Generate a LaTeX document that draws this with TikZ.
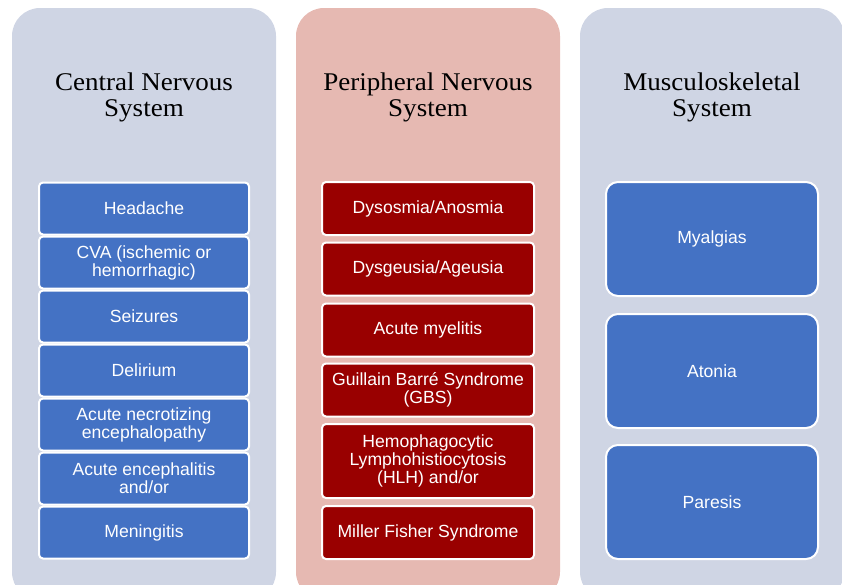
\documentclass[tikz,border=0pt]{standalone}
\usepackage{fontspec}
\setmainfont{Liberation Serif}
\setsansfont{Liberation Sans}
\newfontfamily\titlefont{Liberation Serif}[FakeStretch=1.06]

\definecolor{panelblue}{RGB}{207,213,228}
\definecolor{panelred}{RGB}{230,185,178}
\definecolor{boxblue}{RGB}{68,114,196}
\definecolor{boxred}{RGB}{153,0,0}

\begin{document}
\begin{tikzpicture}[x=1pt,y=-1pt,
  panel/.style={rounded corners=28pt},
  title/.style={align=center,font=\titlefont\fontsize{25.5}{26}\selectfont},
  item/.style={draw=white,line width=2pt,rounded corners=4pt,text=white,
    align=center,inner sep=0pt,font=\sffamily\fontsize{17.6}{18}\selectfont},
  cnsbox/.style={item,fill=boxblue,minimum width=210pt,minimum height=52pt},
  pnsbox/.style={item,fill=boxred,minimum width=212pt,minimum height=53pt},
  msbox/.style={item,fill=boxblue,rounded corners=12pt,minimum width=212pt,minimum height=114pt}]

\useasboundingbox (0,0) rectangle (842,584);
\clip (0,0) rectangle (842,584);

% 三个底板
\fill[panelblue,panel] (12,8) rectangle (276,600);
\fill[panelred,panel] (296,8) rectangle (560,600);
\fill[panelblue,panel] (580,8) rectangle (844,600);

% 标题
\node[title] (cnstitle) at (144,97) {Central Nervous\\System};
\node[title] (pnstitle) at (428,97) {Peripheral Nervous\\System};
\node[title] (mstitle) at (712,97) {Musculoskeletal\\System};

% 中枢神经系统
\node[cnsbox] (headache) at (144,208.5) {Headache};
\node[cnsbox] (cva) at (144,262.5) {CVA (ischemic or\\hemorrhagic)};
\node[cnsbox] (seizures) at (144,316.5) {Seizures};
\node[cnsbox] (delirium) at (144,370.5) {Delirium};
\node[cnsbox] (necrotizing) at (144,424.5) {Acute necrotizing\\encephalopathy};
\node[cnsbox] (encephalitis) at (144,478.5) {Acute encephalitis\\and/or};
\node[cnsbox] (meningitis) at (144,532.5) {Meningitis};

% 周围神经系统
\node[pnsbox] (dysosmia) at (428,208.5) {Dysosmia/Anosmia};
\node[pnsbox] (dysgeusia) at (428,269) {Dysgeusia/Ageusia};
\node[pnsbox] (myelitis) at (428,330) {Acute myelitis};
\node[pnsbox] (gbs) at (428,390) {Guillain Barré Syndrome\\(GBS)};
\node[pnsbox,minimum height=74pt] (hlh) at (428,461) {Hemophagocytic\\Lymphohistiocytosis\\(HLH) and/or};
\node[pnsbox] (millerfisher) at (428,532.5) {Miller Fisher Syndrome};

% 肌肉骨骼系统
\node[msbox] (myalgias) at (712,239) {Myalgias};
\node[msbox] (atonia) at (712,371) {Atonia};
\node[msbox] (paresis) at (712,502) {Paresis};

\end{tikzpicture}
\end{document}
